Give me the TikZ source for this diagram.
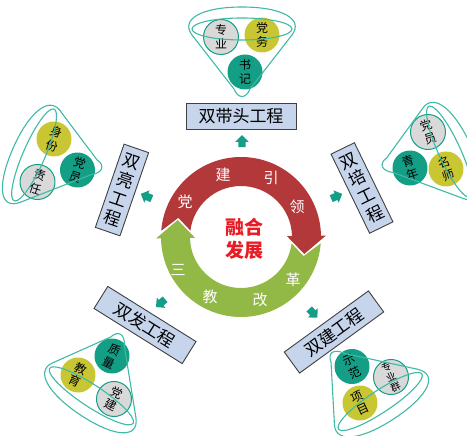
\documentclass[tikz,border=0pt]{standalone}
\usepackage{fontspec}
\setmainfont{Noto Sans CJK SC}
\usetikzlibrary{shapes.arrows}
\definecolor{ringred}{RGB}{178,56,58}
\definecolor{ringgreen}{RGB}{146,184,70}
\definecolor{tealdot}{RGB}{20,158,134}
\definecolor{yellowdot}{RGB}{201,198,52}
\definecolor{graydot}{RGB}{217,217,217}
\definecolor{funnelline}{RGB}{62,186,166}
\definecolor{boxfill}{RGB}{198,213,236}
\definecolor{centrered}{RGB}{232,28,36}
\begin{document}
\begin{tikzpicture}[x=1pt,y=1pt,
    dot/.style={circle, minimum size=35pt, inner sep=0pt, align=center, font=\fontsize{12}{14}\selectfont},
    tdot/.style={dot, fill=tealdot},
    ydot/.style={dot, fill=yellowdot},
    gdot/.style={dot, fill=graydot, draw=tealdot, line width=1pt},
    gcbox/.style={draw=black!75, fill=boxfill, line width=0.9pt, inner sep=0pt, minimum height=26pt, align=center, font=\fontsize{17}{20}\selectfont},
    ringtext/.style={text=white, font=\fontsize{15}{15}\selectfont},
    pointer/.style={single arrow, fill=tealdot, minimum height=12pt, minimum width=13pt, single arrow head extend=3pt, inner sep=3.5pt},
    funnel/.pic={
      \draw[funnelline, line width=1.1pt] (8,8) -- (50,62) .. controls (62,78) and (40,90) .. (0,90) .. controls (-40,90) and (-62,78) .. (-50,62) -- (-8,8) .. controls (-4,-2) and (4,-2) .. (8,8) -- cycle;
      \draw[funnelline, line width=1.1pt] (0,68) ellipse [x radius=50, y radius=11];
    }]
    \useasboundingbox (0,0) rectangle (467,436);

    \begin{scope}[shift={(241,199)}]
      \fill[ringred] (175.5:80) arc[start angle=175.5, end angle=1, radius=80] -- (1:85) -- (-15:65.5) -- (1:46) -- (1:51) arc[start angle=1, end angle=172.7, radius=51] -- (163:65.5) -- cycle;
      \fill[ringgreen] (-4.5:80) arc[start angle=-4.5, end angle=-179, radius=80] -- (-179:85) -- (-195:65.5) -- (-179:46) -- (-179:51) arc[start angle=-179, end angle=-7.3, radius=51] -- (-17:65.5) -- cycle;
    \end{scope}

    \node[ringtext] (dang) at (185,234) {党};
    \node[ringtext] (jianr) at (223,261) {建};
    \node[ringtext] (yin) at (271,258) {引};
    \node[ringtext] (ling) at (297,229) {领};
    \node[ringtext] (san) at (178,166) {三};
    \node[ringtext] (jiao) at (210,139) {教};
    \node[ringtext] (gai) at (260,136) {改};
    \node[ringtext] (ge) at (293,156) {革};
    \node[text=centrered, align=center, font=\fontsize{19}{23}\selectfont\bfseries] (ronghe) at (244,197) {融合\\发展};

    \node[pointer, rotate=90] (ptop) at (242,293) {};
    \node[pointer, rotate=157] (pleft) at (148,239) {};
    \node[pointer, rotate=23] (pright) at (335,239) {};
    \node[pointer, rotate=220] (plowleft) at (162,134) {};
    \node[pointer, rotate=-47] (plowright) at (312,124) {};

    \node[gcbox, minimum width=110pt] (daitou) at (241,320) {双带头工程};
    \node[gcbox, minimum width=26pt, minimum height=88pt, rotate=-19] (liang) at (122,246) {双\\亮\\工\\程};
    \node[gcbox, minimum width=26pt, minimum height=88pt, rotate=26] (pei) at (362,248) {双\\培\\工\\程};
    \node[gcbox, minimum width=104pt, rotate=-32] (fa) at (145,111) {双发工程};
    \node[gcbox, minimum width=104pt, rotate=36] (jian) at (334,104) {双建工程};

    \node[gdot] (zhuanye) at (221,399) {专\\业};
    \node[ydot] (dangwu) at (262,401) {党\\务};
    \node[tdot] (shuji) at (245,364) {书\\记};

    \node[ydot, rotate=-18] (shenfen) at (54,297) {身\\份};
    \node[tdot, rotate=-18] (dangyuanl) at (77.5,266) {党\\员};
    \node[gdot, rotate=-18] (zeren) at (37.5,254) {责\\任};

    \node[gdot, rotate=18] (dangyuanr) at (428,304) {党\\员};
    \node[tdot, rotate=18] (qingnian) at (410,268) {青\\年};
    \node[ydot, rotate=18] (mingshi) at (446,267) {名\\师};

    \node[tdot, rotate=-25] (zhiliang) at (112,80) {质\\量};
    \node[ydot, rotate=-25] (jiaoyu) at (78,61) {教\\育};
    \node[gdot, rotate=-25] (dangjian) at (114,37) {党\\建};

    \node[tdot, rotate=25] (shifan) at (352,69.5) {示\\范};
    \node[gdot, rotate=25, font=\fontsize{10}{11}\selectfont] (zhuanyequn) at (391,59) {专\\业\\群};
    \node[ydot, rotate=25] (xiangmu) at (360,33) {项\\目};

    \pic[shift={(242,339)}] {funnel};
    \pic[shift={(102,267)}, rotate=67, xslant=-0.2] {funnel};
    \pic[shift={(382,269)}, rotate=-66, xslant=0.2] {funnel};
    \pic[shift={(121,102)}, rotate=147, xslant=-0.13] {funnel};
    \pic[shift={(332,84)}, rotate=-146, xslant=-0.18] {funnel};
\end{tikzpicture}
\end{document}
